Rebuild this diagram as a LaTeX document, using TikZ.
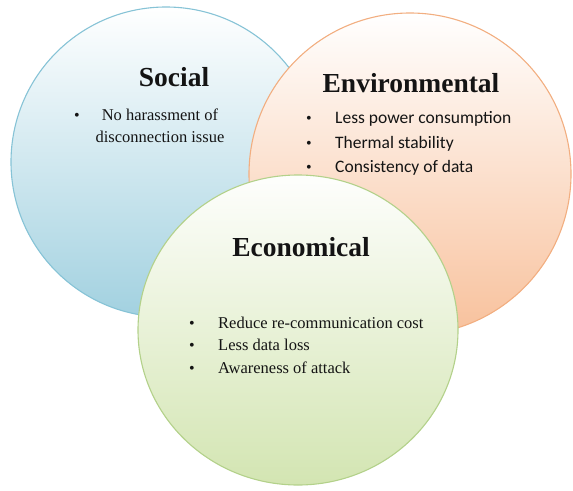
\documentclass[tikz,border=0pt]{standalone}
\usepackage{fontspec}
\setmainfont{Liberation Serif}
\newfontfamily\serfont{Liberation Serif}
\newfontfamily\calfont{Carlito}
\usetikzlibrary{shapes.geometric}
\definecolor{socB}{HTML}{A2D1E0}
\definecolor{socD}{HTML}{86C3D6}
\definecolor{envB}{HTML}{F8C19C}
\definecolor{envD}{HTML}{F2AE80}
\definecolor{ecoB}{HTML}{D3E5B2}
\definecolor{ecoD}{HTML}{B3D18A}
\definecolor{txt}{HTML}{141414}
\begin{document}
\begin{tikzpicture}[x=1pt,y=-1pt,
  ring/.style={inner sep=0pt, line width=1.1pt},
  ttl/.style={font=\serfont\fontsize{27.5}{30}\selectfont\bfseries, anchor=base, text=txt},
  ser/.style={font=\serfont\fontsize{16.5}{20}\selectfont, text=txt},
  cal/.style={font=\calfont\fontsize{17.5}{21}\selectfont, text=txt},
  bul/.style={font=\serfont\fontsize{16}{20}\selectfont, anchor=base, text=txt}]
\useasboundingbox (0,0) rectangle (573,490);
% circles
\node[ring, circle, minimum size=310pt, draw=socD,
      top color=white, middle color=socB!50!white, bottom color=socB] (soc) at (166,162) {};
\node[ring, circle, minimum size=322pt, draw=envD,
      top color=white, middle color=envB!55!white, bottom color=envB] (env) at (410,174) {};
\node[ring, ellipse, minimum width=320pt, minimum height=310pt, draw=ecoD,
      top color=white!97!ecoB, middle color=ecoB!45!white, bottom color=ecoB] (eco) at (298,330) {};
% Social
\node[ttl] (socT) at (174,86) {Social};
\node[bul] (socb1) at (77,120) {\textbullet};
\node[ser, anchor=base] (soc1) at (160,120) {No harassment of};
\node[ser, anchor=base] (soc2) at (160,142) {disconnection issue};
% Environmental
\node[ttl] (envT) at (411,92) {Environmental};
\node[bul] (envb1) at (309,123) {\textbullet};
\node[bul] (envb2) at (309,148) {\textbullet};
\node[bul] (envb3) at (309,172) {\textbullet};
\node[cal, anchor=base west, inner sep=0pt] (env1) at (335,123) {Less power consumption};
\node[cal, anchor=base west, inner sep=0pt] (env2) at (335,148) {Thermal stability};
\node[cal, anchor=base west, inner sep=0pt] (env3) at (335,172) {Consistency of data};
% Economical
\node[ttl] (ecoT) at (301,256) {Economical};
\node[bul] (ecob1) at (192,328) {\textbullet};
\node[bul] (ecob2) at (192,350) {\textbullet};
\node[bul] (ecob3) at (192,373) {\textbullet};
\node[ser, anchor=base west, inner sep=0pt] (eco1) at (218,328) {Reduce re-communication cost};
\node[ser, anchor=base west, inner sep=0pt] (eco2) at (218,350) {Less data loss};
\node[ser, anchor=base west, inner sep=0pt] (eco3) at (218,373) {Awareness of attack};
\end{tikzpicture}
\end{document}
